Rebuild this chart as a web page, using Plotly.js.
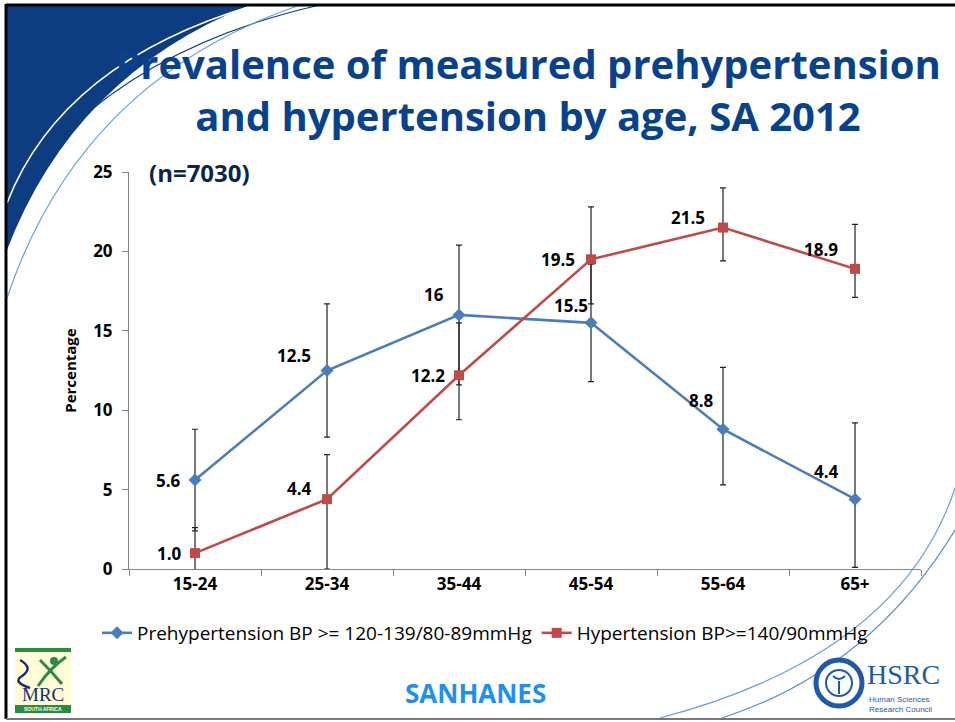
<!DOCTYPE html>
<html>
<head>
<meta charset="utf-8">
<script src="https://cdn.plot.ly/plotly-3.0.1.min.js"></script>
<style>
html,body{margin:0;padding:0;background:#fff;}
#chart{width:955px;height:722px;}
</style>
</head>
<body>
<div id="chart"></div>
<script>
// ---- data ----
var ageGroups = ["15-24", "25-34", "35-44", "45-54", "55-64", "65+"];
var prehypValues = [5.6, 12.5, 16, 15.5, 8.8, 4.4];
var prehypLower = [2.4, 8.3, 11.6, 11.8, 5.3, 0.1];
var prehypUpper = [8.8, 16.7, 20.4, 19.2, 12.7, 9.2];
var prehypLabels = ["5.6", "12.5", "16", "15.5", "8.8", "4.4"];
var hypValues = [1.0, 4.4, 12.2, 19.5, 21.5, 18.9];
var hypLower = [-0.6, 0.0, 9.4, 16.7, 19.4, 17.1];
var hypUpper = [2.6, 7.2, 15.5, 22.8, 24.0, 21.7];
var hypLabels = ["1.0", "4.4", "12.2", "19.5", "21.5", "18.9"];
var yTicks = [0, 5, 10, 15, 20, 25];

// label placement (pixel offsets from the point: [dx, dy], dy down positive)
var prehypLabelOffsets = [[-27,0],[-33,-15],[-25,-20],[-20,-17],[-22,-29],[-29,-28]];
var hypLabelOffsets = [[-26,0],[-28,-11],[-31,0],[-33,0],[-35,-10],[-34,-19]];

// ---- layout geometry ----
var W = 955, H = 722;
var M = {l:129, r:34, t:172, b:153};
var PW = W - M.l - M.r, PH = H - M.t - M.b;
function X(px){ return (px - M.l) / PW; }
function Y(py){ return (H - M.b - py) / PH; }
function P(pts){
  return pts.map(function(s){
    var out = s[0];
    for (var i = 1; i < s.length; i += 2) {
      out += ' ' + X(s[i]).toFixed(5) + ',' + Y(s[i+1]).toFixed(5);
    }
    return out;
  }).join(' ');
}

var blue = '#4A7EBB', red = '#BE4B48';
var FONT = 'Open Sans, Noto Sans, sans-serif';

function diff(a, b){ return a.map(function(v,i){ return v - b[i]; }); }

var tracePre = {
  x: ageGroups, y: prehypValues, type: 'scatter', mode: 'lines+markers',
  name: 'Prehypertension BP >= 120-139/80-89mmHg',
  line: {color: blue, width: 2.6},
  marker: {symbol: 'diamond', size: 10, color: blue},
  error_y: {type: 'data', symmetric: false,
    array: diff(prehypUpper, prehypValues), arrayminus: diff(prehypValues, prehypLower),
    color: '#222', thickness: 1.2, width: 3},
  cliponaxis: true
};
var traceHyp = {
  x: ageGroups, y: hypValues, type: 'scatter', mode: 'lines+markers',
  name: 'Hypertension BP>=140/90mmHg',
  line: {color: red, width: 2.6},
  marker: {symbol: 'square', size: 10, color: red},
  error_y: {type: 'data', symmetric: false,
    array: diff(hypUpper, hypValues), arrayminus: diff(hypValues, hypLower),
    color: '#222', thickness: 1.2, width: 3},
  cliponaxis: true
};

var annotations = [];
function addLabels(vals, labels, offs){
  vals.forEach(function(v, i){
    annotations.push({x: ageGroups[i], y: v, xref: 'x', yref: 'y', text: labels[i],
      showarrow: false, xanchor: 'center', yanchor: 'middle',
      xshift: offs[i][0], yshift: -offs[i][1],
      font: {family: FONT, size: 17, color: '#000', weight: 'bold'}});
  });
}
addLabels(prehypValues, prehypLabels, prehypLabelOffsets);
addLabels(hypValues, hypLabels, hypLabelOffsets);

annotations.push({xref:'paper', yref:'paper', x: X(147), y: Y(172), xanchor:'left', yanchor:'middle',
  text:'(n=7030)', showarrow:false, font:{family: FONT, size: 24, color:'#0B2545', weight:'bold'}});
annotations.push({xref:'paper', yref:'paper', x: X(475), y: Y(693), xanchor:'center', yanchor:'middle',
  text:'SANHANES', showarrow:false, font:{family: FONT, size: 26, color:'#1E90F0', weight:'bold'}});
// MRC logo text
annotations.push({xref:'paper', yref:'paper', x: X(43), y: Y(694), xanchor:'center', yanchor:'middle',
  text:'MRC', showarrow:false, font:{family: 'Liberation Serif, serif', size: 19, color:'#1B2F6B'}});
annotations.push({xref:'paper', yref:'paper', x: X(43), y: Y(709), xanchor:'center', yanchor:'middle',
  text:'SOUTH AFRICA', showarrow:false, font:{family: 'Liberation Sans, sans-serif', size: 5, color:'#fff', weight:'bold'}});
// HSRC logo text
annotations.push({xref:'paper', yref:'paper', x: X(865), y: Y(674), xanchor:'left', yanchor:'middle',
  text:'HSRC', showarrow:false, font:{family: 'Liberation Serif, serif', size: 28, color:'#1E5AA8'}});
annotations.push({xref:'paper', yref:'paper', x: X(867), y: Y(704), xanchor:'left', yanchor:'middle',
  text:'Human Sciences<br>Research Council', align:'left', showarrow:false,
  font:{family: 'Liberation Sans, sans-serif', size: 8, color:'#1E5AA8'}});

var shapes = [
  {type:'path', xref:'paper', yref:'paper', layer:'below', line:{width:0}, fillcolor:'#0D3D80',
    path: P([['M',7,5],['L',250,5],['Q',74,75,7,250],['Z']])},
  {type:'path', xref:'paper', yref:'paper', layer:'below', line:{color:'#ffffff', width:1.5},
    path: P([['M',7,203],['Q',62,62,255,5]])},
  {type:'path', xref:'paper', yref:'paper', layer:'below', line:{color:'#0D3D80', width:1.2},
    path: P([['M',70,128],['Q',165,40,320,5]])},
  {type:'path', xref:'paper', yref:'paper', layer:'below', line:{color:'#6FA0D8', width:1.2},
    path: P([['M',7,298],['Q',80,80,300,5]])},
  {type:'path', xref:'paper', yref:'paper', layer:'below', line:{color:'#6FA0D8', width:1.2},
    path: P([['M',955,488],['Q',900,655,660,718]])},
  {type:'path', xref:'paper', yref:'paper', layer:'below', line:{color:'#5B8FD0', width:1.2},
    path: P([['M',955,530],['Q',870,670,722,718]])},
  {type:'line', xref:'paper', yref:'paper', layer:'below', x0:X(6), y0:Y(5), x1:X(955), y1:Y(5), line:{color:'#000', width:3}},
  {type:'line', xref:'paper', yref:'paper', layer:'below', x0:X(6), y0:Y(4), x1:X(6), y1:Y(719), line:{color:'#000', width:3}},
  {type:'line', xref:'paper', yref:'paper', layer:'below', x0:X(6), y0:Y(719), x1:X(955), y1:Y(719), line:{color:'#777', width:2}},
  // MRC logo
  {type:'rect', xref:'paper', yref:'paper', layer:'below', x0:X(15), y0:Y(648), x1:X(71), y1:Y(713), fillcolor:'#FFFCD8', line:{width:0}},
  {type:'rect', xref:'paper', yref:'paper', layer:'below', x0:X(15), y0:Y(648), x1:X(71), y1:Y(652), fillcolor:'#2E8B3E', line:{width:0}},
  {type:'rect', xref:'paper', yref:'paper', layer:'below', x0:X(15), y0:Y(705), x1:X(71), y1:Y(713), fillcolor:'#2E8B3E', line:{width:0}},
  {type:'path', xref:'paper', yref:'paper', layer:'below', line:{color:'#2E8B3E', width:3},
    path: P([['M',40,660],['Q',52,672,62,684],['M',66,657],['Q',50,668,38,686]])},
  {type:'circle', xref:'paper', yref:'paper', layer:'below', x0:X(50), y0:Y(657), x1:X(58), y1:Y(665), fillcolor:'#2E8B3E', line:{width:0}},
  {type:'path', xref:'paper', yref:'paper', layer:'below', line:{color:'#1B2F6B', width:2.5},
    path: P([['M',20,660],['Q',34,668,22,676],['Q',12,682,30,688]])},
  // HSRC logo
  {type:'circle', xref:'paper', yref:'paper', layer:'below', x0:X(816), y0:Y(660), x1:X(862), y1:Y(706), fillcolor:'#ffffff', line:{color:'#1E5AA8', width:5}},
  {type:'circle', xref:'paper', yref:'paper', layer:'below', x0:X(826), y0:Y(670), x1:X(852), y1:Y(696), fillcolor:'#ffffff', line:{color:'#1E5AA8', width:2}},
  {type:'path', xref:'paper', yref:'paper', layer:'below', line:{color:'#1E5AA8', width:2},
    path: P([['M',833,676],['Q',839,682,845,676],['M',839,681],['L',839,694]])}
];

var layout = {
  width: W, height: H,
  margin: M,
  paper_bgcolor: '#ffffff', plot_bgcolor: 'rgba(0,0,0,0)',
  title: {
    text: 'Prevalence of measured prehypertension<br>and hypertension by age, SA 2012',
    xref: 'container', yref: 'container',
    x: 528 / W, xanchor: 'center', y: 1 - 79 / H, yanchor: 'middle',
    font: {family: FONT, size: 40, color: '#08428C', weight: 'bold'}
  },
  showlegend: true,
  legend: {orientation: 'h', x: X(485), xanchor: 'center', y: Y(633), yanchor: 'middle',
    font: {family: FONT, size: 19, color: '#000'}, bgcolor: 'rgba(0,0,0,0)', itemwidth: 30},
  xaxis: {
    type: 'category', range: [-0.5, 5.5], autorange: false, showgrid: false, zeroline: false,
    showline: true, linecolor: '#868686', linewidth: 1,
    ticks: 'outside', tickson: 'boundaries', ticklen: 6, tickcolor: '#868686',
    tickfont: {family: FONT, size: 17, color: '#000', weight: 'bold'},
    fixedrange: true
  },
  yaxis: {
    range: [0, 25], tickvals: yTicks, showgrid: false, zeroline: false,
    showline: true, linecolor: '#868686', linewidth: 1,
    ticks: 'outside', ticklen: 6, tickcolor: '#868686',
    tickfont: {family: FONT, size: 17, color: '#000', weight: 'bold'},
    ticklabelstandoff: 6,
    title: {text: 'Percentage', standoff: 12, font: {family: FONT, size: 15, color: '#000', weight: 'bold'}},
    fixedrange: true
  },
  annotations: annotations,
  shapes: shapes
};

Plotly.newPlot('chart', [tracePre, traceHyp], layout, {displayModeBar: false, staticPlot: true});
</script>
</body>
</html>
